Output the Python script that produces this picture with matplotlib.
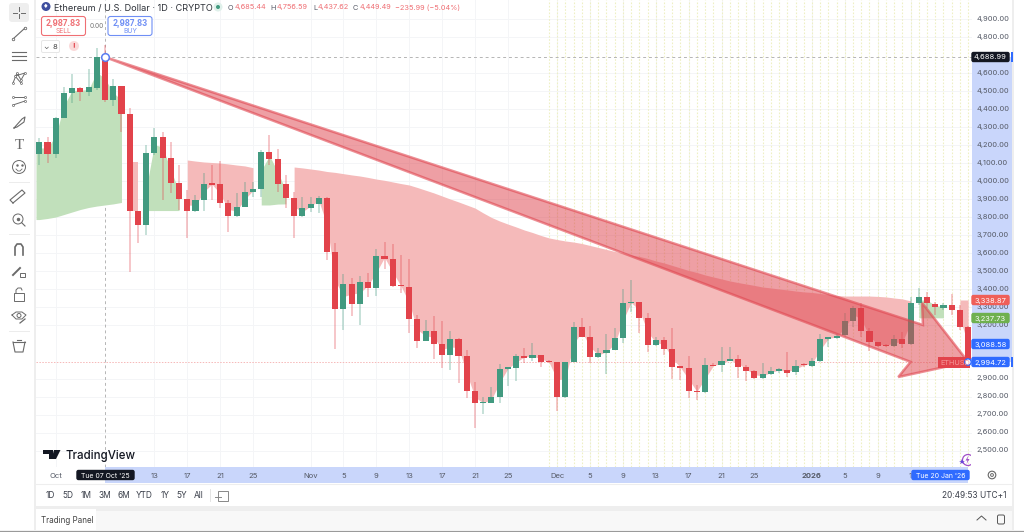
import matplotlib
matplotlib.use("Agg")
import matplotlib.pyplot as plt
import numpy as np
from matplotlib.patches import Circle, FancyBboxPatch, Polygon, Rectangle
from matplotlib.transforms import ScaledTranslation

plt.rcParams["font.family"] = ["Inter", "DejaVu Sans"]

W, H = 1024, 532

# daily candles, index 0 = 29 Sep 2025, index 113 = 20 Jan 2026
opens = [4148, 4219, 4150, 4349, 4491, 4515, 4495, 4519, 4685.44, 4452,
         4530, 4371, 3836, 3754, 4158, 4247, 4130, 3991, 3898, 3836,
         3893, 3986, 3984, 3876, 3808, 3858, 3939, 3956, 4161, 4121,
         3984, 3906, 3808, 3849, 3873, 3908, 3606, 3289, 3426, 3319,
         3437, 3404, 3582, 3569, 3419, 3413, 3234, 3113, 3167, 3097,
         3032, 3123, 3028, 2834, 2765, 2769, 2802, 2956, 2960, 3026,
         3019, 3034, 2996, 2995, 2800, 2997, 3191, 3136, 3023, 3043,
         3061, 3128, 3321, 3326, 3237, 3087, 3117, 3065, 2965, 2963,
         2833, 2828, 2976, 2976, 3002, 3011, 2965, 2944, 2905, 2928,
         2946, 2948, 2939, 2979, 2970, 3002, 3124, 3126, 3144, 3222,
         3296, 3168, 3104, 3089, 3083, 3120, 3094, 3324, 3354, 3318,
         3296, 3311, 3283, 3191]
closes = [4219, 4150, 4352, 4489, 4515, 4495, 4521, 4691, 4449.49, 4530,
          4371, 3836, 3754, 4158, 4247, 4130, 3991, 3898, 3836, 3893,
          3986, 3980, 3876, 3808, 3858, 3939, 3956, 4161, 4121, 3984,
          3906, 3808, 3849, 3873, 3908, 3606, 3289, 3426, 3319, 3437,
          3404, 3582, 3569, 3419, 3415, 3234, 3113, 3167, 3097, 3032,
          3123, 3028, 2834, 2765, 2769, 2802, 2956, 2960, 3026, 3019,
          3034, 2993, 2993, 2800, 2997, 3191, 3136, 3023, 3043, 3061,
          3128, 3321, 3328, 3241, 3087, 3117, 3068, 2965, 2963, 2835,
          2828, 2976, 2972, 2999, 3011, 2965, 2946, 2905, 2928, 2946,
          2954, 2935, 2970, 2976, 3002, 3122, 3128, 3141, 3224, 3296,
          3168, 3104, 3085, 3083, 3120, 3094, 3324, 3354, 3324, 3298,
          3309, 3283, 3191, 2994.72]
highs = [4241, 4247, 4358, 4521, 4595, 4521, 4623, 4741, 4756.59, 4565,
         4530, 4404, 3836, 4200, 4297, 4274, 4219, 4089, 3950, 3923,
         4043, 4089, 4113, 3895, 3936, 3997, 3997, 4173, 4256, 4176,
         4034, 3941, 3910, 3913, 3917, 3913, 3654, 3482, 3460, 3473,
         3487, 3621, 3660, 3650, 3589, 3569, 3256, 3228, 3250, 3223,
         3167, 3126, 3061, 2886, 2798, 2858, 2984, 2960, 3039, 3071,
         3099, 3034, 3006, 2995, 2997, 3219, 3241, 3195, 3071, 3150,
         3182, 3399, 3450, 3326, 3268, 3135, 3131, 3181, 2965, 3028,
         2866, 3015, 2991, 3076, 3076, 3033, 2978, 2950, 2991, 2965,
         2959, 3052, 3005, 2987, 3015, 3150, 3128, 3150, 3265, 3305,
         3320, 3181, 3104, 3094, 3144, 3163, 3357, 3404, 3385, 3329,
         3320, 3372, 3311, 3194]
lows = [4089, 4099, 4126, 4349, 4432, 4447, 4473, 4506, 4437.62, 4417,
        4274, 3495, 3654, 3700, 4145, 3895, 3936, 3839, 3682, 3830,
        3836, 3895, 3849, 3719, 3802, 3854, 3913, 3913, 4089, 3937,
        3849, 3682, 3798, 3830, 3821, 3561, 3065, 3173, 3250, 3200,
        3358, 3363, 3510, 3410, 3376, 3158, 3073, 3113, 3011, 2963,
        2950, 2876, 2793, 2626, 2706, 2769, 2769, 2861, 2891, 2991,
        3002, 2969, 2987, 2724, 2793, 2997, 3136, 2991, 3019, 2928,
        3061, 3099, 3274, 3154, 3052, 3083, 3033, 2900, 2894, 2796,
        2783, 2820, 2972, 2941, 3002, 2904, 2891, 2898, 2898, 2922,
        2931, 2913, 2922, 2968, 2965, 2996, 3076, 3120, 3139, 3191,
        3131, 3057, 3079, 3079, 3076, 3070, 3089, 3311, 3292, 3255,
        3283, 3255, 3172, 2987]

# average line under the shaded zones, one list per zone
green1_band = [3786, 3792, 3800, 3814, 3828, 3842, 3853, 3861, 3867, 3873, 3881]
green2_band = [3836, 3836, 3836, 3836, 3836]
red3_band = [4117, 4111, 4106, 4103, 4100, 4095, 4089, 4084, 4074]
green3_band = [3867, 3867, 3872, 3873]
red4_band = [4078, 4073, 4067, 4061, 4053, 4048, 4041, 4034, 4028, 4020,
             4011, 4004, 3995, 3986, 3978, 3964, 3949, 3934, 3917, 3900,
             3884, 3867, 3850, 3823, 3798, 3778, 3761, 3745, 3728, 3714,
             3698, 3684, 3675, 3667, 3661, 3653, 3642, 3631, 3620, 3609,
             3600, 3589, 3581, 3570, 3556, 3545, 3531, 3517, 3503, 3492,
             3478, 3467, 3456, 3445, 3436, 3428, 3420, 3411, 3406, 3400,
             3395, 3389, 3384, 3381, 3375, 3370, 3364, 3361, 3361, 3361,
             3361, 3359, 3356, 3350, 3345, 3334]
green4_band = [3240, 3240, 3240, 3240]
red5_band = [3339, 3339]

# 3,000, 3,100 and 4,700 sit behind the price labels in the reference
price_ticks = [p for p in range(2500, 5000, 100) if p not in (3000, 3100, 4700)]
date_idx = [2, 14, 18, 22, 26, 33, 37, 41, 45, 49, 53, 57, 63, 67, 71, 75, 79, 83, 87, 94, 98, 102, 106]
date_labels = ["Oct", "13", "17", "21", "25", "Nov", "5", "9", "13", "17", "21", "25",
               "Dec", "5", "9", "13", "17", "21", "25", "2026", "5", "9", "1"]
arrow_x = [8, 107.5, 107.4, 113, 104.5, 106]
arrow_y = [4689, 3200, 3323, 2995, 2911, 2995]

GREEN = "#429a80"
RED = "#e2434b"
BLUE = "#2f6bff"
BAND = "#c9d6fb"
TXT = "#555a66"

fig = plt.figure(figsize=(W / 100, H / 100), dpi=100, facecolor="white")


def px_axes(left, top, right, bottom, z):
    return fig.add_axes([left / W, 1 - bottom / H, (right - left) / W, (bottom - top) / H], zorder=z)


# background layer, pixel coordinates
bg = px_axes(0, 0, W, H, 0)
bg.set_xlim(0, W)
bg.set_ylim(H, 0)
bg.axis("off")
bg.add_patch(Rectangle((972, 57), 40, 305, fc=BAND, ec="none"))
bg.add_patch(Rectangle((105, 467), 863, 16, fc=BAND, ec="none"))
bg.add_patch(Rectangle((34, 0), 2, 530, fc="#eeeeee", ec="none"))
bg.add_patch(Rectangle((1012, 0), 2, 530, fc="#eeeeee", ec="none"))
bg.add_patch(Rectangle((36, 506), 978, 5, fc="#eeeeee", ec="none"))
bg.add_patch(Rectangle((36, 511), 976, 19, fc="#f8f8f8", ec="none"))
bg.add_patch(Rectangle((36, 509), 60, 21, fc="white", ec="none"))
bg.plot([36, 1012], [483.5, 483.5], color="#eeeeee", lw=0.8)
bg.plot([0, W], [530.5, 530.5], color="#9a9a9a", lw=0.9)

# main chart
ax = px_axes(36, 0, 972, 467, 1)
ax.set_xlim(-0.4, 113.47)
ax.set_ylim(2411, 5006)
for s in ax.spines.values():
    s.set_visible(False)
ax.yaxis.tick_right()
ax.set_yticks(price_ticks)
ax.set_yticklabels([f"{p:,.2f}" for p in price_ticks], fontsize=5.4, color=TXT)
ax.set_xticks(date_idx)
ax.set_xticklabels(date_labels, fontsize=5.5, color=TXT)
ax.tick_params(length=0, axis="y", pad=3)
ax.tick_params(length=0, axis="x", pad=4)
for t in ax.get_yticklabels():
    t.set_transform(t.get_transform() + ScaledTranslation(0, 1 / 100, fig.dpi_scale_trans))
ax.get_xticklabels()[date_labels.index("2026")].set_fontweight("bold")
ax.grid(True, color="#f4f5f7", lw=0.7)
ax.set_axisbelow(True)

opens_a = np.array(opens, dtype=float)
closes_a = np.array(closes, dtype=float)
highs_a = np.array(highs, dtype=float)
lows_a = np.array(lows, dtype=float)
mids = (opens_a + closes_a) / 2
idx = np.arange(len(opens))

# session lines over the last part of the chart
ax.vlines(idx[62:], 2411, 5006, color="#eef0c4", lw=0.8, ls=(0, (1.5, 1.5)), zorder=1)

ax.axhline(4688.99, color="#b5b5b5", lw=0.7, ls=(0, (3, 3)), zorder=1.5)
ax.axhline(2994.72, color="#f6b8b8", lw=0.7, ls=(0, (1.5, 1.5)), zorder=1.5)
ax.axvline(8, color="#b5b5b5", lw=0.7, ls=(0, (3, 3)), zorder=1.5)

FILL_G = "#c1e0bb"
FILL_R = "#f5baba"
ax.fill_between(np.r_[-0.4, idx[:11]], np.r_[green1_band[0], green1_band], np.r_[mids[0], mids[:11]],
                color=FILL_G, lw=0, zorder=2)
ax.fill_between([11, 12], [3836, 3836], [mids[11], mids[11]], color=FILL_R, lw=0, zorder=2)
ax.fill_between(idx[13:18], green2_band, mids[13:18], color=FILL_G, lw=0, zorder=2)
ax.fill_between(idx[18:27], red3_band, mids[18:27], color=FILL_R, lw=0, zorder=2)
ax.fill_between(idx[27:31], green3_band, mids[27:31], color=FILL_G, lw=0, zorder=2)
ax.fill_between(idx[31:107], red4_band, mids[31:107], color=FILL_R, lw=0, zorder=2)
ax.fill_between(idx[107:111], green4_band, mids[107:111], color=FILL_G, lw=0, zorder=2)
ax.fill_between(idx[112:114], red5_band, mids[112:114], color=FILL_R, lw=0, zorder=2)

colors = [GREEN if c >= o else RED for o, c in zip(opens_a, closes_a)]
ax.vlines(idx, lows_a, highs_a, colors=colors, lw=1.1, alpha=0.38, zorder=3)
ax.bar(idx, np.maximum(np.abs(closes_a - opens_a), 8), bottom=np.minimum(opens_a, closes_a),
       width=0.74, color=colors, lw=0, zorder=4)

# big down arrow drawn over the candles
ax.add_patch(Polygon(np.column_stack([arrow_x, arrow_y]), closed=True, fc=(0.87, 0.25, 0.29, 0.5),
                     ec=(0.88, 0.27, 0.31, 0.6), lw=1.8, joinstyle="miter", zorder=5))
ax.plot([8], [4689], marker="o", ms=5.5, mfc="white", mec="#5a7bf0", mew=1.1, zorder=6)

# interface layer, pixel coordinates
ui = px_axes(0, 0, W, H, 2)
ui.set_xlim(0, W)
ui.set_ylim(H, 0)
ui.axis("off")


def label(x0, x1, yc, txt, fc, color="white", size=5.4):
    ui.add_patch(FancyBboxPatch((x0 + 1, yc - 4.5), x1 - x0 - 2, 9, boxstyle="round,pad=0,rounding_size=1.5",
                                fc=fc, ec=fc, lw=1))
    ui.text((x0 + x1) / 2, yc, txt, color=color, fontsize=size, ha="center", va="center_baseline")


label(971, 1010, 57, "4,688.99", "#131722")
ui.add_patch(Rectangle((1011, 52), 2, 10, fc=BLUE, ec="none"))
label(971, 1010, 300, "3,338.87", "#ef5f58")
label(971, 1010, 318, "3,237.73", "#6fb04f")
label(971, 1010, 344, "3,088.58", BLUE)
label(971, 1010, 362, "2,994.72", BLUE)
ui.add_patch(Rectangle((1011, 357), 2, 10, fc=BLUE, ec="none"))
ui.add_patch(Rectangle((938, 357), 32, 11, fc="#e2434b", ec="none"))
ui.text(940, 362.5, "ETHUSD", color="#f59a9a", fontsize=5.3, va="center_baseline")
ui.add_patch(Circle((968, 362), 3.2, fc="white", ec=BLUE, lw=1))

label(76, 135, 475, "Tue 07 Oct '25", "#131722", size=5)
label(911, 970, 475, "Tue 20 Jan '26", BLUE, size=5)

# header
ui.add_patch(Circle((46, 6.5), 4.5, fc="#3f4f9f", ec="none"))
ui.text(46, 6.5, "♦", color="white", fontsize=4.5, ha="center", va="center")
ui.text(54, 7, "Ethereum / U.S. Dollar · 1D · CRYPTO", color="#2e3239", fontsize=6.6, va="center_baseline")
ui.add_patch(Circle((218, 7), 4.5, fc="#dff0ea", ec="none"))
ui.add_patch(Circle((218, 7), 2, fc=GREEN, ec="none"))
for x, letter, val_x, val in [(228, "O", 235, "4,685.44"), (270.5, "H", 277, "4,756.59"),
                              (313, "L", 318, "4,437.62"), (353, "C", 359.5, "4,449.49")]:
    ui.text(x, 7, letter, color=TXT, fontsize=5.3, va="center_baseline")
    ui.text(val_x, 7, val, color="#ef6f74", fontsize=5.3, va="center_baseline")
ui.text(395, 7, "−235.99 (−5.04%)", color="#ef6f74", fontsize=5.3, va="center_baseline")

for x0, col, price, side in [(41.5, "#ef6f74", "2,987.83", "SELL"), (108, "#6f8ff5", "2,987.83", "BUY")]:
    ui.add_patch(FancyBboxPatch((x0, 16.5), 44, 19, boxstyle="round,pad=0,rounding_size=2.5", fc="white", ec=col, lw=0.8))
    ui.text(x0 + 22, 22, price, color=col, fontsize=5.7, fontweight="bold", ha="center", va="center_baseline")
    ui.text(x0 + 22, 30.5, side, color=col, fontsize=4.8, ha="center", va="center_baseline")
ui.text(97, 26, "0.00", color="#777777", fontsize=4.8, ha="center", va="center_baseline")
ui.add_patch(FancyBboxPatch((41.5, 40.5), 18, 12, boxstyle="round,pad=0,rounding_size=1.5", fc="white", ec="#e6e6e6", lw=0.7))
ui.text(46, 46.5, "⌄", color="#444444", fontsize=5, ha="center", va="center")
ui.text(54.5, 46.5, "8", color="#444444", fontsize=5.5, ha="center", va="center_baseline")
ui.add_patch(Circle((74, 46), 5, fc="#fadada", ec="none"))
ui.text(74, 46, "!", color="#e2434b", fontsize=5.5, fontweight="bold", ha="center", va="center_baseline")

# left toolbar, rough icons
ui.add_patch(FancyBboxPatch((9, 3), 20, 19, boxstyle="round,pad=0,rounding_size=3", fc="#eeeeee", ec="none"))
ICON = "#6a6a6a"
ui.plot([19, 19], [7, 11], color=ICON, lw=0.7)
ui.plot([19, 19], [14, 18], color=ICON, lw=0.7)
ui.plot([13, 17], [12.5, 12.5], color=ICON, lw=0.7)
ui.plot([21, 25], [12.5, 12.5], color=ICON, lw=0.7)
ui.plot([13, 25], [39, 28], color=ICON, lw=0.8, marker="o", ms=1.8, mfc="white", mew=0.6)
for y in [52, 56, 60]:
    ui.plot([12, 26], [y, y], color=ICON, lw=0.8)
ui.plot([13, 17, 21, 25, 15, 21], [83, 73, 80, 73, 76, 83], color=ICON, lw=0.7, marker="o", ms=1.4, mfc="white", mew=0.5)
ui.plot([13, 25], [97, 97], color=ICON, lw=0.7, marker="o", ms=1.5, mfc="white", mew=0.5)
ui.plot([13, 25], [105, 101], color=ICON, lw=0.7, marker="o", ms=1.5, mfc="white", mew=0.5)
ui.plot([14, 22, 25, 24, 17, 14], [128, 119, 117, 122, 127, 128], color=ICON, lw=0.8)
ui.text(19, 145.5, "T", color=ICON, fontsize=11, ha="center", va="center", fontfamily="Liberation Serif")
ui.add_patch(Circle((19, 167), 6.5, fc="white", ec=ICON, lw=0.7))
ui.plot([16.5, 21.5], [164.8, 164.8], color=ICON, lw=0, marker=".", ms=1.5)
ui.plot([16, 18, 20, 22], [169, 171, 171, 169], color=ICON, lw=0.6)
ui.plot([13, 25, 22, 10, 13], [203, 193, 190, 200, 203], color=ICON, lw=0.8)
ui.add_patch(Circle((18, 219), 5, fc="white", ec=ICON, lw=0.7))
ui.plot([21.5, 25], [222.5, 226], color=ICON, lw=0.8)
ui.plot([18], [219], marker="o", ms=1.5, color=ICON)
for y in [182, 234, 331]:
    ui.plot([9, 29], [y, y], color="#ececec", lw=0.7)
ui.plot([15, 15, 17, 21, 23, 23], [255, 247, 244, 244, 247, 255], color=ICON, lw=1.2)
ui.plot([13, 20], [275, 268], color=ICON, lw=1.4)
ui.add_patch(Rectangle((20, 273), 5, 4, fc="white", ec=ICON, lw=0.7))
ui.add_patch(Rectangle((14, 293), 10, 8, fc="white", ec=ICON, lw=0.7))
ui.plot([16, 16, 18, 21, 22], [293, 290, 288, 288, 290], color=ICON, lw=0.7)
ui.plot([12, 16, 22, 26, 22, 16, 12], [315, 312, 312, 315, 319, 319, 315], color=ICON, lw=0.7)
ui.add_patch(Circle((19, 315.5), 2, fc="white", ec=ICON, lw=0.7))
ui.plot([20, 25], [323, 319], color=ICON, lw=0.9)
ui.plot([13, 15, 23, 25], [342, 352, 352, 342], color=ICON, lw=0.8)
ui.plot([13, 25], [342, 342], color=ICON, lw=0.8)
ui.plot([17, 21], [340, 340], color=ICON, lw=0.8)

# TradingView mark and bottom bars
ui.add_patch(Polygon([(43, 450), (53, 450), (53, 459), (48.5, 459), (48.5, 454), (43, 454)], fc="#131722", ec="none"))
ui.add_patch(Polygon([(54, 450), (60.5, 450), (56, 459), (51.5, 459)], fc="#131722", ec="none"))
ui.add_patch(Circle((55.5, 452), 1.7, fc="#131722", ec="none"))
ui.text(65, 454.5, "TradingView", color="#131722", fontsize=8.3, fontweight="medium", va="center_baseline")

for x, t in [(50, "1D"), (67.5, "5D"), (86, "1M"), (105, "3M"), (123.5, "6M"), (144.5, "YTD"), (165, "1Y"), (182, "5Y"), (199, "All")]:
    ui.text(x, 495, t, color="#3a3f4a", fontsize=6, ha="center", va="center_baseline")
ui.plot([209.5, 209.5], [489, 501], color="#e4e4e4", lw=0.7)
ui.add_patch(Rectangle((218, 491), 10, 10, fc="white", ec="#888888", lw=0.7))
ui.plot([215, 221], [497, 497], color="#888888", lw=0.7)
ui.text(1007, 495, "20:49:53 UTC+1", color="#3a3f4a", fontsize=6, ha="right", va="center_baseline")
ui.text(41, 519.5, "Trading Panel", color="#444444", fontsize=5.8, va="center_baseline")
ui.plot([977, 981.5, 986], [520, 516, 520], color="#555555", lw=0.7)
ui.add_patch(FancyBboxPatch((997.5, 515), 7, 9, boxstyle="round,pad=0,rounding_size=1.5", fc="none", ec="#555555", lw=0.7))
ui.add_patch(Circle((992, 475), 3.8, fc="white", ec="#666666", lw=0.8))
ui.add_patch(Circle((992, 475), 1.4, fc="white", ec="#666666", lw=0.7))

# small purple alert mark clipped by the price scale
ui.add_patch(Circle((968, 460), 5.5, fc="none", ec="#a14fc9", lw=0.9))
ui.add_patch(Polygon([(968.5, 455.5), (965.5, 460.5), (967.5, 460.5), (966.5, 464), (969.5, 459), (967.5, 459)], fc="#a14fc9", ec="none"))
ui.plot([962], [461.5], marker="*", ms=4, color="#6a45d8", mew=0)
ui.add_patch(Rectangle((970.5, 452), 8, 15, fc="white", ec="none"))

fig.savefig("out.png", dpi=100)
